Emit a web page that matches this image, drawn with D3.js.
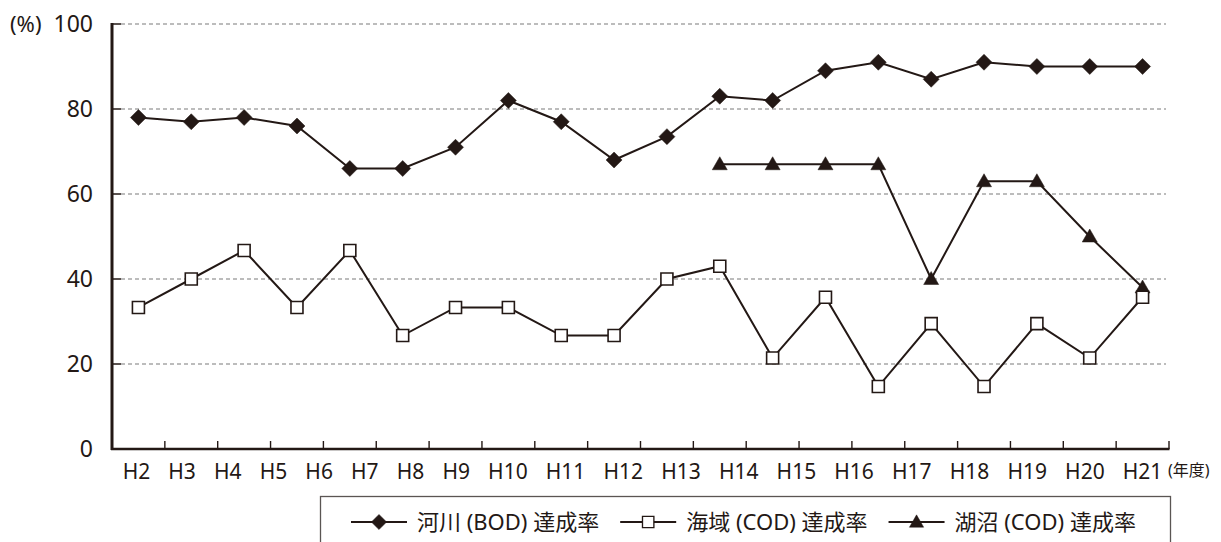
<!DOCTYPE html>
<html>
<head>
<meta charset="utf-8">
<script src="https://cdn.jsdelivr.net/npm/d3@7"></script>
<style>
  html, body { margin: 0; padding: 0; background: #fff; }
  svg { display: block; font-family: 'Noto Sans', 'Noto Sans CJK JP', sans-serif; }
</style>
</head>
<body>
<div id="chart"></div>
<script>
// ━━━━━━━━━━━━━━━━━━━━━━━━━━━━━━━━━━━━━━━━━━━━━━━━━━━━━━━━━━━━━━━━━━━━━━━━━━
// Data /////////////////////////////////////////////////////////////////////
// ━━━━━━━━━━━━━━━━━━━━━━━━━━━━━━━━━━━━━━━━━━━━━━━━━━━━━━━━━━━━━━━━━━━━━━━━━━

const years    = ['H2','H3','H4','H5','H6','H7','H8','H9','H10','H11','H12','H13','H14','H15','H16','H17','H18','H19','H20','H21'];
const riverBOD = [78, 77, 78, 76, 66, 66, 71, 82, 77, 68, 73.5, 83, 82, 89, 91, 87, 91, 90, 90, 90];
const seaCOD   = [33.3, 40, 46.7, 33.3, 46.7, 26.7, 33.3, 33.3, 26.7, 26.7, 40, 43, 21.4, 35.7, 14.7, 29.5, 14.7, 29.5, 21.4, 35.7];
const lakeCOD  = [null, null, null, null, null, null, null, null, null, null, null, 67, 67, 67, 67, 40, 63, 63, 50, 38];
const yTicks   = [0, 20, 40, 60, 80, 100];
const legendLabels = ['河川 (BOD) 達成率', '海域 (COD) 達成率', '湖沼 (COD) 達成率'];

const width = 1221, height = 542;
const ink = '#231815';

// ━━━━━━━━━━━━━━━━━━━━━━━━━━━━━━━━━━━━━━━━━━━━━━━━━━━━━━━━━━━━━━━━━━━━━━━━━━
// SVG setup ////////////////////////////////////////////////////////////////
// ━━━━━━━━━━━━━━━━━━━━━━━━━━━━━━━━━━━━━━━━━━━━━━━━━━━━━━━━━━━━━━━━━━━━━━━━━━

const svg = d3.select('#chart').append('svg')
  .attr('viewBox', [0, 0, width, height])
  .attr('width', width)
  .attr('height', height);

const    grid = svg.append('g').attr('id', 'grid');
const  series = svg.append('g').attr('id', 'series');
const    axes = svg.append('g').attr('id', 'axes');
const  legend = svg.append('g').attr('id', 'legend');

const x = d3.scaleBand().domain(years).range([112, 1169]).padding(0);
const cx = d => x(d) + x.bandwidth() / 2;
const y = d3.scaleLinear().domain([0, 100]).range([449, 24]);

// gridlines: short solid tick then dashes
grid.selectAll('line.dash')
  .data(yTicks.filter(d => d > 0))
  .join('line')
  .attr('class', 'dash')
  .attr('x1', 121).attr('x2', 1166)
  .attr('y1', d => y(d)).attr('y2', d => y(d))
  .attr('stroke', '#7a7a7a')
  .attr('stroke-width', 1.1)
  .attr('stroke-dasharray', '4,3');

grid.selectAll('line.tick')
  .data(yTicks.filter(d => d > 0))
  .join('line')
  .attr('class', 'tick')
  .attr('x1', 112).attr('x2', 121)
  .attr('y1', d => y(d)).attr('y2', d => y(d))
  .attr('stroke', ink)
  .attr('stroke-width', 1.5);

// markers
const diamond  = 'M0,-8L8,0L0,8L-8,0Z';
const square   = 'M-6,-6H6V6H-6Z';
const triangle = 'M0,-7.5L7.5,5.5L-7.5,5.5Z';

const seriesDefs = [
  { values: lakeCOD,  path: triangle, fill: ink },
  { values: seaCOD,   path: square,   fill: '#fff' },
  { values: riverBOD, path: diamond,  fill: ink }
];

const line = d3.line()
  .defined(d => d.v != null)
  .x(d => cx(d.k))
  .y(d => y(d.v));

seriesDefs.forEach(s => {
  const pts = years.map((k, i) => ({ k, v: s.values[i] }));
  const g = series.append('g');
  g.append('path')
    .datum(pts)
    .attr('d', line)
    .attr('fill', 'none')
    .attr('stroke', ink)
    .attr('stroke-width', 2);
  g.selectAll('path.m')
    .data(pts.filter(d => d.v != null))
    .join('path')
    .attr('class', 'm')
    .attr('d', s.path)
    .attr('transform', d => `translate(${cx(d.k)},${y(d.v)})`)
    .attr('fill', s.fill)
    .attr('stroke', ink)
    .attr('stroke-width', s.fill === '#fff' ? 1.6 : 0.5);
});

// axes
axes.append('line')
  .attr('x1', 112).attr('x2', 112)
  .attr('y1', 23).attr('y2', y(0) + 1)
  .attr('stroke', ink).attr('stroke-width', 3);

axes.append('line')
  .attr('x1', 111).attr('x2', 1169.5)
  .attr('y1', y(0)).attr('y2', y(0))
  .attr('stroke', ink).attr('stroke-width', 2.6);

axes.selectAll('line.xt')
  .data(years.slice(1).concat(['end']))
  .join('line')
  .attr('class', 'xt')
  .attr('x1', d => d === 'end' ? 1169 : x(d))
  .attr('x2', d => d === 'end' ? 1169 : x(d))
  .attr('y1', y(0)).attr('y2', y(0) - 8)
  .attr('stroke', ink).attr('stroke-width', 1.4);

axes.selectAll('text.yl')
  .data(yTicks)
  .join('text')
  .attr('class', 'yl')
  .attr('x', 93)
  .attr('y', d => y(d))
  .attr('dy', '0.36em')
  .attr('text-anchor', 'end')
  .attr('font-size', 23)
  .attr('fill', ink)
  .text(d => d);

axes.append('text')
  .attr('x', 10).attr('y', y(100)).attr('dy', '0.36em')
  .attr('font-size', 22)
  .attr('fill', ink)
  .text('(%)');

// x labels: laid out as a run of text with even gaps, first and last on the end points
const xl = axes.selectAll('text.xl')
  .data(years)
  .join('text')
  .attr('class', 'xl')
  .attr('y', 479)
  .attr('font-size', 21)
  .attr('fill', ink)
  .text(d => d);

const widths = xl.nodes().map(n => n.getComputedTextLength());
const first = cx(years[0]) - 2 - widths[0] / 2;
const last = cx(years[years.length - 1]) + widths[widths.length - 1] / 2;
const gap = (last - first - d3.sum(widths)) / (years.length - 1);
let run = first;
xl.attr('x', (d, i) => { const p = run; run += widths[i] + gap; return p; });

axes.append('text')
  .attr('x', 1168).attr('y', 476)
  .attr('font-size', 16)
  .attr('fill', ink)
  .text('(年度)');

// ━━━━━━━━━━━━━━━━━━━━━━━━━━━━━━━━━━━━━━━━━━━━━━━━━━━━━━━━━━━━━━━━━━━━━━━━━━
// Legend ///////////////////////////////////////////////////////////////////
// ━━━━━━━━━━━━━━━━━━━━━━━━━━━━━━━━━━━━━━━━━━━━━━━━━━━━━━━━━━━━━━━━━━━━━━━━━━━

legend.append('rect')
  .attr('x', 320.5).attr('y', 496.5)
  .attr('width', 850).attr('height', 80)
  .attr('fill', '#fff')
  .attr('stroke', '#5a5553')
  .attr('stroke-width', 1.3);

const legendMarks = [diamond, square, triangle];
const legendFills = [ink, '#fff', ink];
let lx = 351;
const ly = 522;
legendLabels.forEach((label, i) => {
  const g = legend.append('g');
  g.append('line')
    .attr('x1', lx).attr('x2', lx + 56)
    .attr('y1', ly).attr('y2', ly)
    .attr('stroke', ink).attr('stroke-width', 2);
  g.append('path')
    .attr('d', legendMarks[i])
    .attr('transform', `translate(${lx + 28},${ly}) scale(0.95)`)
    .attr('fill', legendFills[i])
    .attr('stroke', ink)
    .attr('stroke-width', legendFills[i] === '#fff' ? 1.4 : 0.5);
  const t = g.append('text')
    .attr('x', lx + 66).attr('y', ly).attr('dy', '0.36em')
    .attr('font-size', 22)
    .attr('fill', ink)
    .text(label);
  lx += 66 + t.node().getComputedTextLength() + 21;
});
</script>
</body>
</html>
